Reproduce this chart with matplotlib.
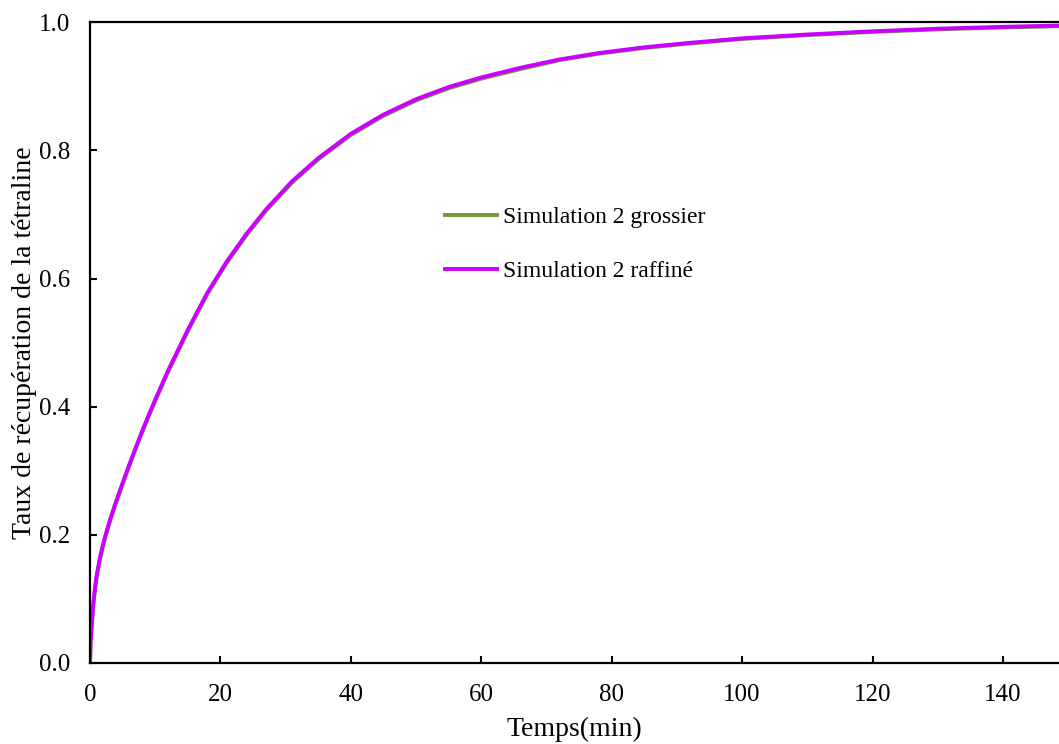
import matplotlib
matplotlib.use("Agg")
import matplotlib.pyplot as plt

# temps (min) et taux de récupération
temps = [0, 0.1, 0.3, 0.5, 0.8, 1.0, 1.5, 2.0, 2.5, 3, 3.5, 4, 5, 6, 7, 8, 9, 10,
         12, 15, 18, 21, 24, 27, 31, 35, 40, 45, 50, 55, 60, 66, 72, 78, 85, 92,
         100, 110, 120, 130, 140, 149]
raffine = [0, 0.035, 0.065, 0.092, 0.12, 0.135, 0.163, 0.185, 0.204, 0.221, 0.237,
           0.252, 0.281, 0.309, 0.336, 0.362, 0.387, 0.411, 0.457, 0.52, 0.578,
           0.627, 0.67, 0.708, 0.752, 0.788, 0.826, 0.856, 0.880, 0.899, 0.914,
           0.929, 0.942, 0.952, 0.961, 0.968, 0.975, 0.981, 0.986, 0.990, 0.993,
           0.995]
grossier = [0, 0.034, 0.064, 0.091, 0.118, 0.133, 0.161, 0.183, 0.202, 0.219, 0.235,
            0.250, 0.279, 0.307, 0.334, 0.360, 0.385, 0.409, 0.455, 0.518, 0.576,
            0.625, 0.668, 0.706, 0.750, 0.786, 0.824, 0.854, 0.878, 0.897, 0.912,
            0.927, 0.941, 0.951, 0.960, 0.967, 0.974, 0.980, 0.985, 0.989, 0.992,
            0.994]

x_ticks = [0, 20, 40, 60, 80, 100, 120, 140]
y_ticks = [0.0, 0.2, 0.4, 0.6, 0.8, 1.0]

plt.rcParams['font.family'] = ['Liberation Serif', 'DejaVu Serif']

fig = plt.figure(figsize=(10.59, 7.44), dpi=100)
ax = fig.add_axes([0.085, 0.109, 0.915, 0.861])

ax.plot(temps, grossier, color='#77933C', lw=2.8, label='Simulation 2 grossier')
ax.plot(temps, raffine, color='#CC00FF', lw=2.8, label='Simulation 2 raffiné')

ax.set_xlim(0, 148.6)
ax.set_ylim(0, 1.0)
ax.set_xticks(x_ticks)
ax.set_yticks(y_ticks)
ax.set_yticklabels([f"{v:.1f}" for v in y_ticks])
ax.tick_params(direction='in', length=5, width=1.5, labelsize=18)
ax.tick_params(axis='x', pad=15)
ax.tick_params(axis='y', pad=14)

for side in ['left', 'bottom', 'top']:
    ax.spines[side].set_linewidth(1.6)
ax.spines['right'].set_visible(False)

ax.set_xlabel('Temps(min)', fontsize=20, labelpad=8)
ax.set_ylabel('Taux de récupération de la tétraline', fontsize=20, labelpad=1.5)

ax.legend(loc='upper left', bbox_to_anchor=(0.366, 0.7125), frameon=False,
          fontsize=17, handlelength=2.2, handletextpad=0.25, labelspacing=1.38,
          borderpad=0, borderaxespad=0)

fig.savefig('out.png', dpi=100)
